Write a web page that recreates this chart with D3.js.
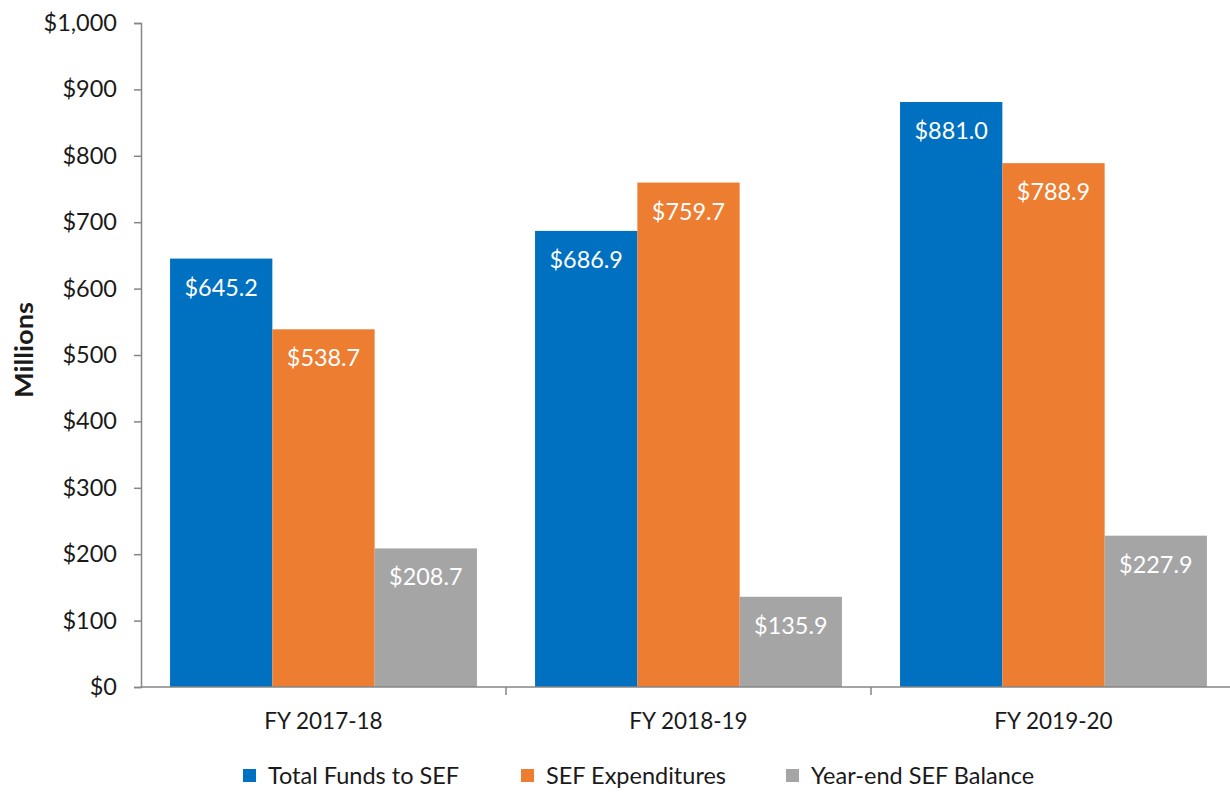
<!DOCTYPE html>
<html>
<head>
<meta charset="utf-8">
<script src="https://cdn.jsdelivr.net/npm/d3@7"></script>
<style>
  html, body { margin: 0; padding: 0; background: #fff; }
  svg { display: block; }
  text { font-family: Lato, "Open Sans", sans-serif; }
</style>
</head>
<body>
<svg id="chart" width="1230" height="792"></svg>
<script>
// Fiscal years on the x axis
const categories = ["FY 2017-18", "FY 2018-19", "FY 2019-20"];
// Series names (legend order)
const seriesNames = ["Total Funds to SEF", "SEF Expenditures", "Year-end SEF Balance"];
// Values in millions of dollars, one array per series
const totalFunds = [645.2, 686.9, 881.0];
const expenditures = [538.7, 759.7, 788.9];
const yearEndBalance = [208.7, 135.9, 227.9];
// Y axis ticks
const yTicks = [0, 100, 200, 300, 400, 500, 600, 700, 800, 900, 1000];

const seriesValues = [totalFunds, expenditures, yearEndBalance];
const colors = ["#0070C0", "#ED7D31", "#A5A5A5"];

const svg = d3.select("#chart");
const plot = { left: 141, right: 1236, top: 23, bottom: 687 };

const y = d3.scaleLinear().domain([0, 1000]).range([plot.bottom, plot.top]);
const x0 = d3.scaleBand().domain(categories).range([plot.left, plot.right]).padding(0);
const x1 = d3.scaleBand().domain(seriesNames).range([0, x0.bandwidth()])
  .paddingInner(0).paddingOuter(0.284);

// Rows: one entry per bar
const rows = [];
categories.forEach((c, i) => {
  seriesNames.forEach((s, j) => {
    rows.push({ cat: c, series: s, value: seriesValues[j][i], color: colors[j] });
  });
});

// Bars
const bars = svg.append("g");
bars.selectAll("rect").data(rows).join("rect")
  .attr("x", d => x0(d.cat) + x1(d.series))
  .attr("y", d => y(d.value))
  .attr("width", x1.bandwidth())
  .attr("height", d => y(0) - y(d.value))
  .attr("fill", d => d.color);

// Value labels inside the top of each bar
bars.selectAll("text").data(rows).join("text")
  .attr("x", d => x0(d.cat) + x1(d.series) + x1.bandwidth() / 2)
  .attr("y", d => y(d.value) + 37)
  .attr("text-anchor", "middle")
  .attr("fill", "#ffffff")
  .attr("font-size", 23.4)
  .text(d => "$" + d.value.toFixed(1));

// Y axis
const yAxis = d3.axisLeft(y).tickValues(yTicks).tickSize(7).tickPadding(17)
  .tickFormat(d => "$" + d3.format(",")(d));
const gy = svg.append("g").attr("transform", `translate(${plot.left},0)`).call(yAxis);
gy.select(".domain").attr("stroke", "#868686").attr("stroke-width", 1.5);
gy.selectAll(".tick line").attr("stroke", "#868686").attr("stroke-width", 1.5);
gy.selectAll(".tick text").attr("font-size", 23.5).attr("fill", "#1a1a1a")
  .attr("font-family", "Lato, sans-serif");

// X axis with ticks between groups
const gx = svg.append("g").attr("transform", `translate(0,${plot.bottom})`);
gx.append("line")
  .attr("x1", plot.left).attr("x2", 1230)
  .attr("stroke", "#868686").attr("stroke-width", 1.5);
const boundaries = categories.map(c => x0(c)).concat([x0(categories[categories.length - 1]) + x0.bandwidth()]);
gx.selectAll("line.tick").data(boundaries.slice(1, 3)).join("line")
  .attr("class", "tick")
  .attr("x1", d => d).attr("x2", d => d)
  .attr("y1", 0).attr("y2", 8)
  .attr("stroke", "#868686").attr("stroke-width", 1.5);
gx.selectAll("text").data(categories).join("text")
  .attr("x", d => x0(d) + x0.bandwidth() / 2)
  .attr("y", 42)
  .attr("text-anchor", "middle")
  .attr("font-size", 22.5)
  .attr("fill", "#1a1a1a")
  .text(d => d);

// Y axis title
svg.append("text")
  .attr("transform", "translate(33,350) rotate(-90)")
  .attr("text-anchor", "middle")
  .attr("font-size", 24)
  .attr("font-weight", "bold")
  .attr("fill", "#1a1a1a")
  .attr("textLength", 96)
  .attr("lengthAdjust", "spacingAndGlyphs")
  .text("Millions");

// Legend
const legendX = [243, 521, 786];
const legend = svg.append("g");
seriesNames.forEach((s, j) => {
  const g = legend.append("g").attr("transform", `translate(${legendX[j]},776)`);
  g.append("rect").attr("x", 0).attr("y", -7).attr("width", 13).attr("height", 13).attr("fill", colors[j]);
  g.append("text").attr("x", 25).attr("y", 8).attr("font-size", 23.5).attr("fill", "#1a1a1a").text(s);
});
</script>
</body>
</html>
